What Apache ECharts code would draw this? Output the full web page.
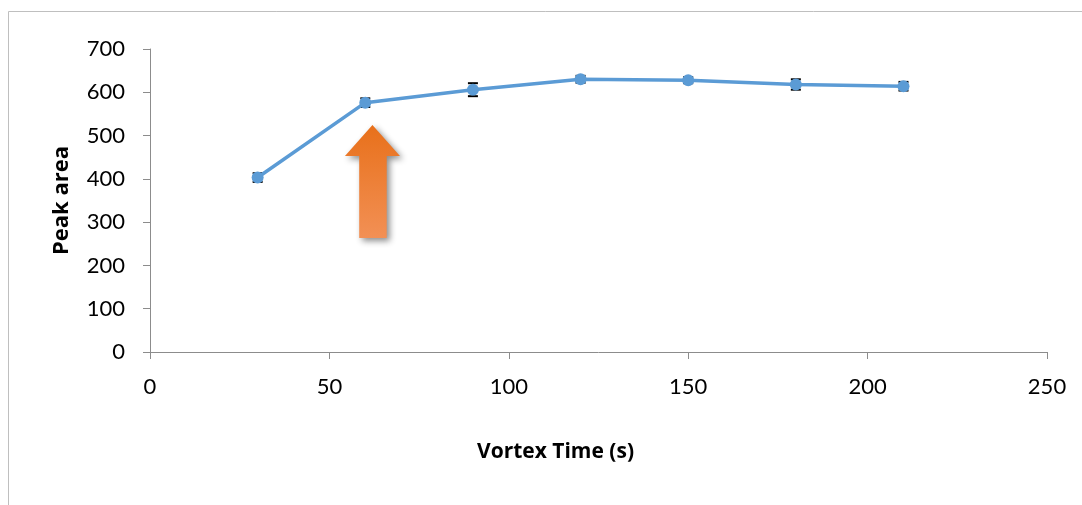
<!DOCTYPE html>
<html><head><meta charset="utf-8">
<script src="https://cdn.jsdelivr.net/npm/echarts@6/dist/echarts.min.js"></script>
<style>html,body{margin:0;padding:0;background:#fff}#c{width:1082px;height:505px}</style>
</head><body><div id="c"></div>
<script>
const xValues = [30, 60, 90, 120, 150, 180, 210];
const peakArea = [403, 576, 606, 630, 628, 618, 614];
const errors = [10, 10, 15, 8, 7, 12, 10];
const xTicks = [0, 50, 100, 150, 200, 250];
const yTicks = [0, 100, 200, 300, 400, 500, 600, 700];
const arrowAt = [62, 394];

const chart = echarts.init(document.getElementById('c'));
const font = 'Lato, "Open Sans", sans-serif';
const titleFont = '"Open Sans", sans-serif';
const axisColor = '#8c8c8c';
const lineData = xValues.map((x, i) => [x, peakArea[i]]);
const errData = xValues.map((x, i) => [x, peakArea[i] - errors[i], peakArea[i] + errors[i]]);

chart.setOption({
  animation: false,
  graphic: [{
    type: 'polyline', silent: true,
    shape: { points: [[8.5, 505], [8.5, 11.5], [1082, 11.5]] },
    style: { stroke: '#bfbfbf', lineWidth: 1, fill: null }
  }],
  grid: { left: 150, right: 35, top: 49, bottom: 153, containLabel: false },
  xAxis: {
    type: 'value', min: xTicks[0], max: xTicks[xTicks.length - 1], interval: 50,
    name: 'Vortex Time (s)', nameLocation: 'middle', nameGap: 90,
    nameTextStyle: { fontFamily: titleFont, fontWeight: 'bold', fontSize: 21, color: '#000', padding: [0, 86, 0, 0] },
    axisLine: { lineStyle: { color: axisColor, width: 1 } },
    axisTick: { show: true, length: 7, lineStyle: { color: axisColor } },
    axisLabel: { margin: 24, fontFamily: font, fontSize: 22, color: '#000' },
    splitLine: { show: false }
  },
  yAxis: {
    type: 'value', min: yTicks[0], max: yTicks[yTicks.length - 1], interval: 100,
    name: 'Peak area', nameLocation: 'middle', nameGap: 77, nameRotate: 90,
    nameTextStyle: { fontFamily: titleFont, fontWeight: 'bold', fontSize: 22, color: '#000' },
    axisLine: { show: true, lineStyle: { color: axisColor, width: 1 } },
    axisTick: { show: true, length: 7, lineStyle: { color: axisColor } },
    axisLabel: { margin: 25, fontFamily: font, fontSize: 22, color: '#000' },
    splitLine: { show: false }
  },
  series: [{
    type: 'line', data: lineData, symbol: 'circle', symbolSize: 12,
    lineStyle: { color: '#5B9BD5', width: 3.5 },
    itemStyle: { color: '#5B9BD5' },
    z: 3,
    markPoint: {
      silent: true,
      symbol: 'path://M27,0 L54,31 L41,31 L41,113 L14,113 L14,31 L0,31 Z',
      symbolSize: [55, 113],
      symbolKeepAspect: false,
      label: { show: false },
      itemStyle: {
        color: new echarts.graphic.LinearGradient(0, 0, 0, 1, [
          { offset: 0, color: '#E8701A' }, { offset: 1, color: '#F29055' }
        ]),
        shadowColor: 'rgba(0,0,0,0.45)', shadowBlur: 6, shadowOffsetX: 3, shadowOffsetY: 3
      },
      data: [{ coord: arrowAt }]
    }
  }, {
    type: 'custom', z: 2, data: errData,
    renderItem: function (params, api) {
      const x = api.value(0);
      const lo = api.coord([x, api.value(1)]);
      const hi = api.coord([x, api.value(2)]);
      const w = 5;
      const st = { stroke: '#000', lineWidth: 2 };
      return { type: 'group', children: [
        { type: 'line', shape: { x1: lo[0], y1: lo[1], x2: hi[0], y2: hi[1] }, style: st },
        { type: 'line', shape: { x1: lo[0] - w, y1: lo[1], x2: lo[0] + w, y2: lo[1] }, style: st },
        { type: 'line', shape: { x1: hi[0] - w, y1: hi[1], x2: hi[0] + w, y2: hi[1] }, style: st }
      ]};
    }
  }]
});
</script></body></html>
